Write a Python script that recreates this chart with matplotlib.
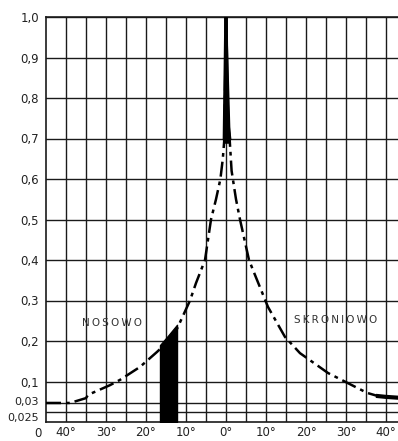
import numpy as np
import matplotlib.pyplot as plt
from matplotlib.transforms import ScaledTranslation

# nasal side (negative degrees) and temporal side of the curve, visual scale
deg_nasal = [-45, -39, -35, -34.5, -29, -26.5, -21.5, -17.25, -16.5, -14.5, -12.25,
             -9, -7.5, -5.25, -3.75, -2.5, -1.4, -0.8, -0.4, 0]
val_nasal = [0.047, 0.047, 0.059, 0.067, 0.091, 0.104, 0.136, 0.173, 0.18, 0.203, 0.23,
             0.30, 0.343, 0.40, 0.50, 0.55, 0.60, 0.65, 0.70, 1.0]
deg_temp = [0, 0.3, 0.9, 1.4, 2.5, 3.5, 5.75, 7.25, 10.5, 14.75, 18.5, 25.5, 35.25, 38, 40, 43]
val_temp = [1.0, 0.75, 0.70, 0.62, 0.55, 0.50, 0.40, 0.363, 0.284, 0.21, 0.17, 0.121, 0.072,
            0.064, 0.062, 0.06]

blind_from, blind_to = -16.5, -12.25

ytick_pos = [0.025, 0.047, 0.1, 0.2, 0.3, 0.4, 0.5, 0.6, 0.7, 0.8, 0.9, 1.0]
ytick_lab = ["0,025", "0,03", "0,1", "0,2", "0,3", "0,4", "0,5", "0,6", "0,7", "0,8", "0,9", "1,0"]
xtick_pos = [-40, -30, -20, -10, 0, 10, 20, 30, 40]
xtick_lab = ["40°", "30°", "20°", "10°", "0°", "10°", "20°", "30°", "40°"]

plt.rcParams['font.family'] = ['Liberation Sans Narrow', 'DejaVu Sans']

fig = plt.figure(figsize=(3.98, 4.41), dpi=100)
ax = fig.add_axes([46 / 398, 1 - 422 / 441, 360 / 398, 405 / 441])
ax.set_xlim(-45, 45)
ax.set_ylim(0, 1.0)

ink = '#1a1a1a'
for g in np.arange(-40, 45, 5):
    ax.axvline(g, color=ink, lw=1.0, zorder=1)
for g in ytick_pos:
    ax.axhline(g, color=ink, lw=1.0, zorder=1)
for s in ax.spines.values():
    s.set_color(ink)
    s.set_linewidth(1.2)

dn = np.array(deg_nasal)
vn = np.array(val_nasal)
dt = np.array(deg_temp)
vt = np.array(val_temp)

ax.plot(dn, vn, color='black', lw=1.8, dashes=(6, 2, 1.5, 2), zorder=3)
ax.plot(dt, vt, color='black', lw=1.8, dashes=(6, 2, 1.5, 2), zorder=3)

# solid peak and tail
m = vn >= 0.69
ax.plot(dn[m], vn[m], color='black', lw=2.5, zorder=4)
m = vt >= 0.69
ax.plot(dt[m], vt[m], color='black', lw=2.5, zorder=4)
ax.fill_betweenx([0.69, 1.0], [dn[vn >= 0.69][0], 0], [dt[vt >= 0.69][-1], 0], color='black', zorder=4)
m = dt >= 36
ax.plot(dt[m], vt[m], color='black', lw=3, zorder=4)

# blind spot
m = (dn >= blind_from) & (dn <= blind_to)
ax.fill_between(dn[m], 0, vn[m] + 0.01, color='black', zorder=5)

ax.set_yticks(ytick_pos)
ax.set_yticklabels(ytick_lab)
ax.set_xticks(xtick_pos)
ax.set_xticklabels(xtick_lab)
ax.tick_params(length=0, labelsize=8.5, colors='#222222')
ax.tick_params(axis='y', pad=5)
ax.tick_params(axis='x', pad=3)

# the two small labels sit a little apart, as in the original
ylabs = ax.get_yticklabels()
for lab, dy in [(ylabs[0], -3.5), (ylabs[1], 1.5)]:
    lab.set_fontsize(8)
    lab.set_transform(lab.get_transform() + ScaledTranslation(0, dy / 72, fig.dpi_scale_trans))

ax.text(-0.012, -0.028, "0", transform=ax.transAxes, ha='right', va='center',
        fontsize=8.5, color='#222222')

ax.text(-28.5, 0.245, "\u2009".join("NOSOWO"), fontsize=7.5, ha='center', va='center', color='#333333')
ax.text(27.5, 0.252, "\u2009".join("SKRONIOWO"), fontsize=7.5, ha='center', va='center', color='#333333')

fig.savefig('out.png', dpi=100)
